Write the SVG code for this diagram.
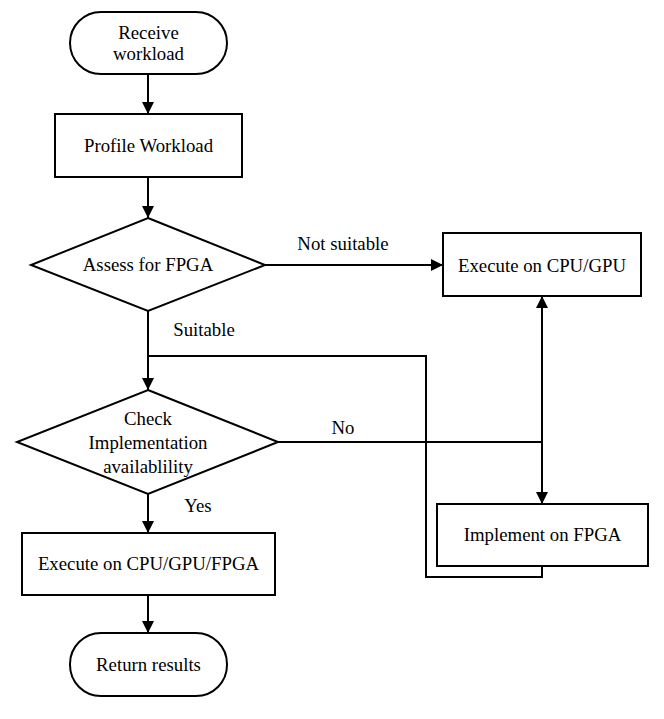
<svg xmlns="http://www.w3.org/2000/svg" width="664" height="719" viewBox="0 0 664 719">
<style>
.s{fill:#fff;stroke:#000;stroke-width:2}
.l{fill:none;stroke:#000;stroke-width:2}
text{font-family:'Liberation Serif','Times New Roman',Times,'DejaVu Serif',serif;font-size:18.8px;fill:#000;text-anchor:middle}
</style>
<defs>
<marker id="b" viewBox="0 0 12 12" refX="12" refY="6" markerWidth="12" markerHeight="12" markerUnits="userSpaceOnUse" orient="auto-start-reverse">
<path d="M0,0 L12,6 L0,12 Z" fill="#000"/>
</marker>
</defs>
<rect width="664" height="719" fill="#fff"/>
<g id="connectors">
<line class="l" x1="148" y1="74" x2="148" y2="114" marker-end="url(#b)"/>
<line class="l" x1="148" y1="177" x2="148" y2="218" marker-end="url(#b)"/>
<line class="l" x1="265" y1="265" x2="443" y2="265" marker-end="url(#b)"/>
<line class="l" x1="148" y1="311" x2="148" y2="390" marker-end="url(#b)"/>
<polyline class="l" points="148,356 426,356 426,577 542,577 542,566"/>
<line class="l" x1="542" y1="296" x2="542" y2="504" marker-start="url(#b)" marker-end="url(#b)"/>
<line class="l" x1="278" y1="442" x2="542" y2="442"/>
<line class="l" x1="148" y1="494" x2="148" y2="533" marker-end="url(#b)"/>
<line class="l" x1="148" y1="595" x2="148" y2="633" marker-end="url(#b)"/>
<text x="343" y="250" font-family="Liberation Serif, serif">Not suitable</text>
<text x="204" y="336" font-family="Liberation Serif, serif">Suitable</text>
<text x="343" y="434" font-family="Liberation Serif, serif">No</text>
<text x="198" y="512" font-family="Liberation Serif, serif">Yes</text>
</g>
<g id="start">
<rect class="s" x="70" y="12" width="157" height="62" rx="31" ry="31"/>
<text x="148.5" y="39" font-family="Liberation Serif, serif">Receive</text>
<text x="148.5" y="60" font-family="Liberation Serif, serif">workload</text>
</g>
<g id="profile">
<rect class="s" x="55" y="114" width="187" height="63"/>
<text x="148.5" y="152" font-family="Liberation Serif, serif">Profile Workload</text>
</g>
<g id="assess">
<polygon class="s" points="148,218 265,265 148,311 31,265"/>
<text x="148" y="271" font-family="Liberation Serif, serif">Assess for FPGA</text>
</g>
<g id="cpugpu">
<rect class="s" x="443" y="233" width="198" height="63"/>
<text x="542" y="272" font-family="Liberation Serif, serif">Execute on CPU/GPU</text>
</g>
<g id="check">
<polygon class="s" points="148,390 278,442 148,494 17,442"/>
<text x="148" y="425" font-family="Liberation Serif, serif">Check</text>
<text x="148" y="449" font-family="Liberation Serif, serif">Implementation</text>
<text x="148" y="473" font-family="Liberation Serif, serif">availablility</text>
</g>
<g id="implement">
<rect class="s" x="437" y="504" width="211" height="62"/>
<text x="542.5" y="541" font-family="Liberation Serif, serif">Implement on FPGA</text>
</g>
<g id="execall">
<rect class="s" x="22" y="533" width="253" height="62"/>
<text x="148.5" y="570" font-family="Liberation Serif, serif">Execute on CPU/GPU/FPGA</text>
</g>
<g id="end">
<rect class="s" x="70" y="633" width="157" height="63" rx="31" ry="31"/>
<text x="148.5" y="671" font-family="Liberation Serif, serif">Return results</text>
</g>
</svg>
